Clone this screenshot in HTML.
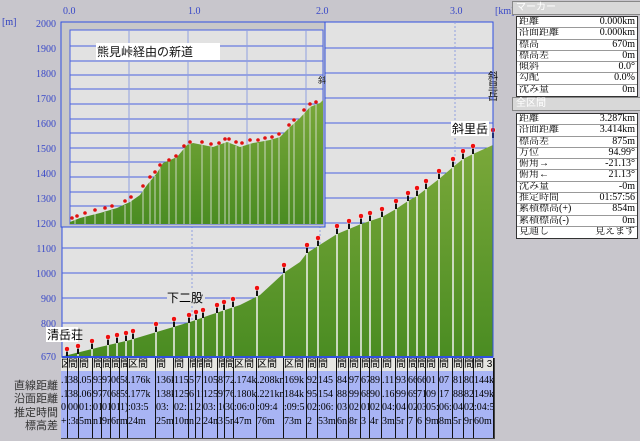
<!DOCTYPE html>
<html><head><meta charset="utf-8"><style>
body{margin:0;width:640px;height:441px;background:#c8c6cc;overflow:hidden;position:relative;font-family:"Liberation Sans","Noto Sans CJK JP",sans-serif;}
.bar{position:absolute;left:512px;width:124px;height:12px;background:#d8d8d8;border:1px solid #888;font-size:10px;color:#fff;line-height:12px;padding-left:3px;}
.tb{position:absolute;left:516px;width:120px;background:#fff;border:1px solid #333;}
.tb div{box-sizing:border-box;height:11.3px;border-bottom:1px solid #999;font-size:10px;line-height:10px;display:flex;justify-content:space-between;padding:0 2px;font-family:"Liberation Serif","Noto Serif CJK SC",serif;overflow:hidden;}
.lab{position:absolute;font-size:11px;color:#333;text-align:right;width:56px;left:2px;}
.col{position:absolute;overflow:hidden;border-right:1px solid #111;top:358px;height:80px;}
.col .h{height:13px;background:#e6e6e2;font-size:10px;line-height:13px;white-space:nowrap;}
.col .d{height:67px;background:#a8b4f4;font-size:10px;white-space:nowrap;line-height:13.5px;padding-top:3px;font-family:"Liberation Serif",serif;}
</style></head><body>
<svg width="640" height="441" style="position:absolute;left:0;top:0" font-family="Liberation Serif, serif">
<text x="2" y="25" font-size="10" fill="#3040c0">[m]</text>
<g font-size="10" fill="#3848c8" text-anchor="end">
<text x="56" y="27">2000</text><text x="56" y="52">1900</text><text x="56" y="77">1800</text><text x="56" y="102">1700</text><text x="56" y="127">1600</text><text x="56" y="152">1500</text><text x="56" y="177">1400</text><text x="56" y="202">1300</text><text x="56" y="227">1200</text><text x="56" y="252">1100</text><text x="56" y="277">1000</text><text x="56" y="302">900</text><text x="56" y="327">800</text><text x="56" y="360">670</text>
</g>
<g font-size="10" fill="#3848c8"><text x="63" y="14">0.0</text><text x="188" y="14">1.0</text><text x="316" y="14">2.0</text><text x="450" y="14">3.0</text><text x="495" y="14">[km]</text></g>
<rect x="62" y="22" width="431" height="335" fill="#e2e2e2" stroke="#3050e0"/>
<g stroke="#4a62e0" stroke-width="1">
<line x1="62" x2="493" y1="48" y2="48"/><line x1="62" x2="493" y1="73" y2="73"/><line x1="62" x2="493" y1="98" y2="98"/><line x1="62" x2="493" y1="123" y2="123"/><line x1="62" x2="493" y1="148" y2="148"/><line x1="62" x2="493" y1="173" y2="173"/><line x1="62" x2="493" y1="198" y2="198"/><line x1="62" x2="493" y1="223" y2="223"/><line x1="62" x2="493" y1="248" y2="248"/><line x1="62" x2="493" y1="273" y2="273"/><line x1="62" x2="493" y1="298" y2="298"/><line x1="62" x2="493" y1="323" y2="323"/>
</g>
<g stroke="#90a0e0" stroke-dasharray="2,2"><line x1="192" x2="192" y1="22" y2="357"/><line x1="320" x2="320" y1="22" y2="357"/><line x1="455" x2="455" y1="22" y2="357"/></g>
<defs><linearGradient id="g" x1="0" y1="0" x2="0" y2="1"><stop offset="0" stop-color="#7aa83a"/><stop offset="1" stop-color="#4a8c22"/></linearGradient></defs>
<polygon fill="url(#g)" points="64,357 64,356 80,352 100,347 130,340 160,331 190,322 210,315 240,305 260,295 285,272 300,262 307,253 318,246 337,234 349,229 361,224 370,221 382,217 396,209 408,201 417,196 426,189 439,179 453,167 463,159 473,154 493,145 493,357"/>
<g stroke="#f0f0f0" stroke-width="1.5">
<line x1="67" x2="67" y1="356" y2="357"/><line x1="78" x2="78" y1="354" y2="357"/><line x1="92" x2="92" y1="349" y2="357"/><line x1="108" x2="108" y1="345" y2="357"/><line x1="117" x2="117" y1="343" y2="357"/><line x1="126" x2="126" y1="341" y2="357"/><line x1="133" x2="133" y1="339" y2="357"/><line x1="156" x2="156" y1="332" y2="357"/><line x1="174" x2="174" y1="327" y2="357"/><line x1="189" x2="189" y1="323" y2="357"/><line x1="196" x2="196" y1="320" y2="357"/><line x1="203" x2="203" y1="318" y2="357"/><line x1="217" x2="217" y1="313" y2="357"/><line x1="224" x2="224" y1="310" y2="357"/><line x1="233" x2="233" y1="307" y2="357"/><line x1="257" x2="257" y1="296" y2="357"/><line x1="284" x2="284" y1="273" y2="357"/><line x1="307" x2="307" y1="253" y2="357"/><line x1="318" x2="318" y1="246" y2="357"/><line x1="337" x2="337" y1="234" y2="357"/><line x1="349" x2="349" y1="229" y2="357"/><line x1="361" x2="361" y1="224" y2="357"/><line x1="370" x2="370" y1="221" y2="357"/><line x1="382" x2="382" y1="217" y2="357"/><line x1="396" x2="396" y1="209" y2="357"/><line x1="408" x2="408" y1="201" y2="357"/><line x1="417" x2="417" y1="196" y2="357"/><line x1="426" x2="426" y1="189" y2="357"/><line x1="439" x2="439" y1="179" y2="357"/><line x1="453" x2="453" y1="167" y2="357"/><line x1="463" x2="463" y1="159" y2="357"/><line x1="473" x2="473" y1="154" y2="357"/>
</g>
<g fill="#111"><rect x="66" y="350" width="2" height="6"/><rect x="77" y="347" width="2" height="7"/><rect x="91" y="342" width="2" height="7"/><rect x="107" y="338" width="2" height="7"/><rect x="116" y="336" width="2" height="7"/><rect x="125" y="334" width="2" height="7"/><rect x="132" y="332" width="2" height="7"/><rect x="155" y="325" width="2" height="7"/><rect x="173" y="320" width="2" height="7"/><rect x="188" y="316" width="2" height="7"/><rect x="195" y="313" width="2" height="7"/><rect x="202" y="311" width="2" height="7"/><rect x="216" y="306" width="2" height="7"/><rect x="223" y="303" width="2" height="7"/><rect x="232" y="300" width="2" height="7"/><rect x="256" y="289" width="2" height="7"/><rect x="283" y="266" width="2" height="7"/><rect x="306" y="246" width="2" height="7"/><rect x="317" y="239" width="2" height="7"/><rect x="336" y="227" width="2" height="7"/><rect x="348" y="222" width="2" height="7"/><rect x="360" y="217" width="2" height="7"/><rect x="369" y="214" width="2" height="7"/><rect x="381" y="210" width="2" height="7"/><rect x="395" y="202" width="2" height="7"/><rect x="407" y="194" width="2" height="7"/><rect x="416" y="189" width="2" height="7"/><rect x="425" y="182" width="2" height="7"/><rect x="438" y="172" width="2" height="7"/><rect x="452" y="160" width="2" height="7"/><rect x="462" y="152" width="2" height="7"/><rect x="472" y="147" width="2" height="7"/><rect x="492" y="131" width="2" height="7"/></g>
<g fill="#ee1010" stroke="#fff" stroke-width="0.5"><circle cx="67" cy="349" r="2.5"/><circle cx="78" cy="346" r="2.5"/><circle cx="92" cy="341" r="2.5"/><circle cx="108" cy="337" r="2.5"/><circle cx="117" cy="335" r="2.5"/><circle cx="126" cy="333" r="2.5"/><circle cx="133" cy="331" r="2.5"/><circle cx="156" cy="324" r="2.5"/><circle cx="174" cy="319" r="2.5"/><circle cx="189" cy="315" r="2.5"/><circle cx="196" cy="312" r="2.5"/><circle cx="203" cy="310" r="2.5"/><circle cx="217" cy="305" r="2.5"/><circle cx="224" cy="302" r="2.5"/><circle cx="233" cy="299" r="2.5"/><circle cx="257" cy="288" r="2.5"/><circle cx="284" cy="265" r="2.5"/><circle cx="307" cy="245" r="2.5"/><circle cx="318" cy="238" r="2.5"/><circle cx="337" cy="226" r="2.5"/><circle cx="349" cy="221" r="2.5"/><circle cx="361" cy="216" r="2.5"/><circle cx="370" cy="213" r="2.5"/><circle cx="382" cy="209" r="2.5"/><circle cx="396" cy="201" r="2.5"/><circle cx="408" cy="193" r="2.5"/><circle cx="417" cy="188" r="2.5"/><circle cx="426" cy="181" r="2.5"/><circle cx="439" cy="171" r="2.5"/><circle cx="453" cy="159" r="2.5"/><circle cx="463" cy="151" r="2.5"/><circle cx="473" cy="146" r="2.5"/><circle cx="493" cy="130" r="2.5"/></g>
<!-- inset -->
<rect x="61" y="22" width="264" height="205" fill="#c8c8c8" stroke="#3050e0"/>
<rect x="70" y="30" width="253" height="194" fill="#e2e2e2" stroke="#4a62e0"/>
<g stroke="#4a62e0"><line x1="70" x2="323" y1="46" y2="46"/><line x1="70" x2="323" y1="61" y2="61"/><line x1="70" x2="323" y1="75" y2="75"/><line x1="70" x2="323" y1="89" y2="89"/><line x1="70" x2="323" y1="104" y2="104"/><line x1="70" x2="323" y1="119" y2="119"/><line x1="70" x2="323" y1="133" y2="133"/><line x1="70" x2="323" y1="148" y2="148"/><line x1="70" x2="323" y1="162" y2="162"/><line x1="70" x2="323" y1="177" y2="177"/><line x1="70" x2="323" y1="192" y2="192"/><line x1="70" x2="323" y1="206" y2="206"/></g>
<g stroke="#90a0e0"><line x1="129" x2="129" y1="30" y2="224"/><line x1="188" x2="188" y1="30" y2="224"/><line x1="247" x2="247" y1="30" y2="224"/><line x1="306" x2="306" y1="30" y2="224"/></g>
<polygon fill="url(#g)" points="70,224 70,222 80,218 100,213 117,208 130,202 140,195 147,185 157,173 163,163 177,157 187,145 193,143 203,145 213,147 227,142 240,147 253,143 270,140 280,137 290,127 300,118 310,107 320,103 323,100 323,224"/>
<g stroke="#e8e8e8" stroke-width="1" opacity="0.8">
<line x1="75" x2="75" y1="220" y2="224"/><line x1="85" x2="85" y1="217" y2="224"/><line x1="95" x2="95" y1="214" y2="224"/><line x1="105" x2="105" y1="212" y2="224"/><line x1="112" x2="112" y1="210" y2="224"/><line x1="125" x2="125" y1="205" y2="224"/><line x1="131" x2="131" y1="201" y2="224"/><line x1="143" x2="143" y1="190" y2="224"/><line x1="150" x2="150" y1="181" y2="224"/><line x1="155" x2="155" y1="176" y2="224"/><line x1="160" x2="160" y1="168" y2="224"/><line x1="169" x2="169" y1="160" y2="224"/><line x1="176" x2="176" y1="157" y2="224"/><line x1="184" x2="184" y1="148" y2="224"/><line x1="190" x2="190" y1="144" y2="224"/><line x1="202" x2="202" y1="145" y2="224"/><line x1="211" x2="211" y1="147" y2="224"/><line x1="219" x2="219" y1="145" y2="224"/><line x1="225" x2="225" y1="142" y2="224"/><line x1="229" x2="229" y1="143" y2="224"/><line x1="236" x2="236" y1="146" y2="224"/><line x1="242" x2="242" y1="146" y2="224"/><line x1="250" x2="250" y1="144" y2="224"/><line x1="258" x2="258" y1="143" y2="224"/><line x1="265" x2="265" y1="141" y2="224"/><line x1="272" x2="272" y1="140" y2="224"/><line x1="279" x2="279" y1="137" y2="224"/><line x1="289" x2="289" y1="128" y2="224"/><line x1="294" x2="294" y1="123" y2="224"/><line x1="304" x2="304" y1="113" y2="224"/><line x1="310" x2="310" y1="107" y2="224"/><line x1="316" x2="316" y1="104" y2="224"/>
</g>
<g fill="#e01010"><circle cx="72" cy="218" r="1.8"/><circle cx="77" cy="216" r="1.8"/><circle cx="85" cy="213" r="1.8"/><circle cx="95" cy="210" r="1.8"/><circle cx="105" cy="208" r="1.8"/><circle cx="112" cy="206" r="1.8"/><circle cx="125" cy="201" r="1.8"/><circle cx="131" cy="197" r="1.8"/><circle cx="143" cy="186" r="1.8"/><circle cx="150" cy="177" r="1.8"/><circle cx="155" cy="172" r="1.8"/><circle cx="160" cy="165" r="1.8"/><circle cx="169" cy="160" r="1.8"/><circle cx="176" cy="156" r="1.8"/><circle cx="184" cy="146" r="1.8"/><circle cx="190" cy="142" r="1.8"/><circle cx="202" cy="142" r="1.8"/><circle cx="211" cy="144" r="1.8"/><circle cx="219" cy="143" r="1.8"/><circle cx="225" cy="139" r="1.8"/><circle cx="229" cy="139" r="1.8"/><circle cx="236" cy="142" r="1.8"/><circle cx="242" cy="143" r="1.8"/><circle cx="250" cy="140" r="1.8"/><circle cx="258" cy="140" r="1.8"/><circle cx="265" cy="138" r="1.8"/><circle cx="272" cy="137" r="1.8"/><circle cx="279" cy="134" r="1.8"/><circle cx="289" cy="125" r="1.8"/><circle cx="294" cy="120" r="1.8"/><circle cx="304" cy="110" r="1.8"/><circle cx="310" cy="104" r="1.8"/><circle cx="316" cy="102" r="1.8"/></g>
<rect x="96" y="43" width="124" height="17" fill="#fff"/>
<text x="97" y="56" font-size="12" font-family="Liberation Sans, Noto Sans CJK JP, sans-serif" fill="#111">熊見峠経由の新道</text>
<text x="318" y="83" font-size="8" fill="#111" font-family="Noto Sans CJK JP, sans-serif">斜</text>
<rect x="46" y="327" width="32" height="15" fill="#fff"/>
<text x="47" y="339" font-size="12" font-family="Liberation Sans, Noto Sans CJK JP, sans-serif">清岳荘</text>
<rect x="167" y="290" width="38" height="15" fill="#e2e2e2"/>
<text x="167" y="302" font-size="12" font-family="Liberation Sans, Noto Sans CJK JP, sans-serif">下二股</text>
<rect x="451" y="121" width="38" height="15" fill="#fff"/>
<text x="452" y="133" font-size="12" font-family="Liberation Sans, Noto Sans CJK JP, sans-serif">斜里岳</text>
<g font-size="10" font-family="Noto Sans CJK JP, sans-serif"><text x="488" y="80">斜</text><text x="488" y="90">里</text><text x="488" y="100">岳</text></g>
<line x1="62" x2="493" y1="357" y2="357" stroke="#3050e0" stroke-width="2"/>
<line x1="493" x2="493" y1="22" y2="357" stroke="#3050e0"/>
</svg>

<div class="lab" style="top:377px">直線距離</div>
<div class="lab" style="top:390px">沿面距離</div>
<div class="lab" style="top:404px">推定時間</div>
<div class="lab" style="top:417px">標高差</div>

<div style="position:absolute;left:61px;top:358px;width:432px;height:80px;background:#a8b4f4;border:1px solid #444;border-top:none"></div>
<div class="col" style="left:61px;width:6px"><div class="h">区間</div><div class="d">.1<br>.1<br>0<br>+</div></div>
<div class="col" style="left:68px;width:10px"><div class="h">間</div><div class="d">382<br>383<br>001<br>:3m</div></div>
<div class="col" style="left:79px;width:13px"><div class="h">間</div><div class="d">.053<br>.063<br>01:0<br>5m</div></div>
<div class="col" style="left:93px;width:8px"><div class="h">間</div><div class="d">936<br>970<br>01<br>n1</div></div>
<div class="col" style="left:102px;width:8px"><div class="h">間</div><div class="d">970<br>706<br>010<br>9m</div></div>
<div class="col" style="left:111px;width:8px"><div class="h">間</div><div class="d">068<br>685<br>010<br>6m</div></div>
<div class="col" style="left:120px;width:7px"><div class="h">間</div><div class="d">58<br>59<br>1)<br>m</div></div>
<div class="col" style="left:128px;width:27px"><div class="h">区間</div><div class="d">.176k<br>.177k<br>:03:5<br>24m</div></div>
<div class="col" style="left:156px;width:17px"><div class="h">間</div><div class="d">136k<br>138k<br>03:<br>25m</div></div>
<div class="col" style="left:174px;width:14px"><div class="h">間</div><div class="d">115<br>125<br>02:<br>10m</div></div>
<div class="col" style="left:189px;width:6px"><div class="h">間</div><div class="d">5<br>6<br>1<br>n</div></div>
<div class="col" style="left:196px;width:6px"><div class="h">間</div><div class="d">71<br>11<br>2<br>2</div></div>
<div class="col" style="left:203px;width:14px"><div class="h">間</div><div class="d">105<br>125<br>03:<br>24m</div></div>
<div class="col" style="left:218px;width:6px"><div class="h">間</div><div class="d">87<br>97<br>10<br>3</div></div>
<div class="col" style="left:225px;width:8px"><div class="h">間</div><div class="d">72<br>76<br>30<br>5n</div></div>
<div class="col" style="left:234px;width:22px"><div class="h">区間</div><div class="d">.174k<br>.180k<br>:06:0<br>47m</div></div>
<div class="col" style="left:257px;width:26px"><div class="h">区間</div><div class="d">.208km<br>.221km<br>:09:4<br>76m</div></div>
<div class="col" style="left:284px;width:22px"><div class="h">区間</div><div class="d">169k<br>184k<br>:09:5<br>73m</div></div>
<div class="col" style="left:307px;width:10px"><div class="h">間</div><div class="d">92<br>95<br>02<br>2</div></div>
<div class="col" style="left:318px;width:18px"><div class="h">間</div><div class="d">145<br>154<br>:06:<br>53m</div></div>
<div class="col" style="left:337px;width:11px"><div class="h">間</div><div class="d">84<br>88<br>03<br>6n</div></div>
<div class="col" style="left:349px;width:11px"><div class="h">間</div><div class="d">97<br>99<br>02<br>8r</div></div>
<div class="col" style="left:361px;width:8px"><div class="h">間</div><div class="d">67<br>68<br>01<br>3</div></div>
<div class="col" style="left:370px;width:11px"><div class="h">間</div><div class="d">89<br>90<br>02<br>4r</div></div>
<div class="col" style="left:382px;width:13px"><div class="h">間</div><div class="d">.11<br>.16<br>04:<br>3m</div></div>
<div class="col" style="left:396px;width:11px"><div class="h">間</div><div class="d">93<br>99<br>04<br>5r</div></div>
<div class="col" style="left:408px;width:8px"><div class="h">間</div><div class="d">66<br>69<br>02<br>7</div></div>
<div class="col" style="left:417px;width:8px"><div class="h">間</div><div class="d">66<br>71<br>03<br>6</div></div>
<div class="col" style="left:426px;width:12px"><div class="h">間</div><div class="d">01<br>09<br>05:<br>9m</div></div>
<div class="col" style="left:439px;width:13px"><div class="h">間</div><div class="d">07<br>17<br>06:<br>8m</div></div>
<div class="col" style="left:453px;width:10px"><div class="h">間</div><div class="d">81<br>88<br>04<br>5r</div></div>
<div class="col" style="left:464px;width:9px"><div class="h">間</div><div class="d">80<br>82<br>02<br>9r</div></div>
<div class="col" style="left:474px;width:19px"><div class="h">間 3</div><div class="d">144k<br>149k<br>:04:5<br>60m</div></div>

<div class="bar" style="top:1px">マーカー</div>
<div class="tb" style="top:16px">
<div><span>距離</span><span>0.000km</span></div>
<div><span>沿面距離</span><span>0.000km</span></div>
<div><span>標高</span><span>670m</span></div>
<div><span>標高差</span><span>0m</span></div>
<div><span>傾斜</span><span>0.0°</span></div>
<div><span>勾配</span><span>0.0%</span></div>
<div style="border:none"><span>沈み量</span><span>0m</span></div>
</div>
<div class="bar" style="top:97px">全区間</div>
<div class="tb" style="top:113px">
<div><span>距離</span><span>3.287km</span></div>
<div><span>沿面距離</span><span>3.414km</span></div>
<div><span>標高差</span><span>875m</span></div>
<div><span>方位</span><span>94.99°</span></div>
<div><span>俯角→</span><span>-21.13°</span></div>
<div><span>俯角←</span><span>21.13°</span></div>
<div><span>沈み量</span><span>-0m</span></div>
<div><span>推定時間</span><span>01:57:56</span></div>
<div><span>累積標高(+)</span><span>854m</span></div>
<div><span>累積標高(-)</span><span>0m</span></div>
<div style="border:none"><span>見通し</span><span>見えます</span></div>
</div>
</body></html>
